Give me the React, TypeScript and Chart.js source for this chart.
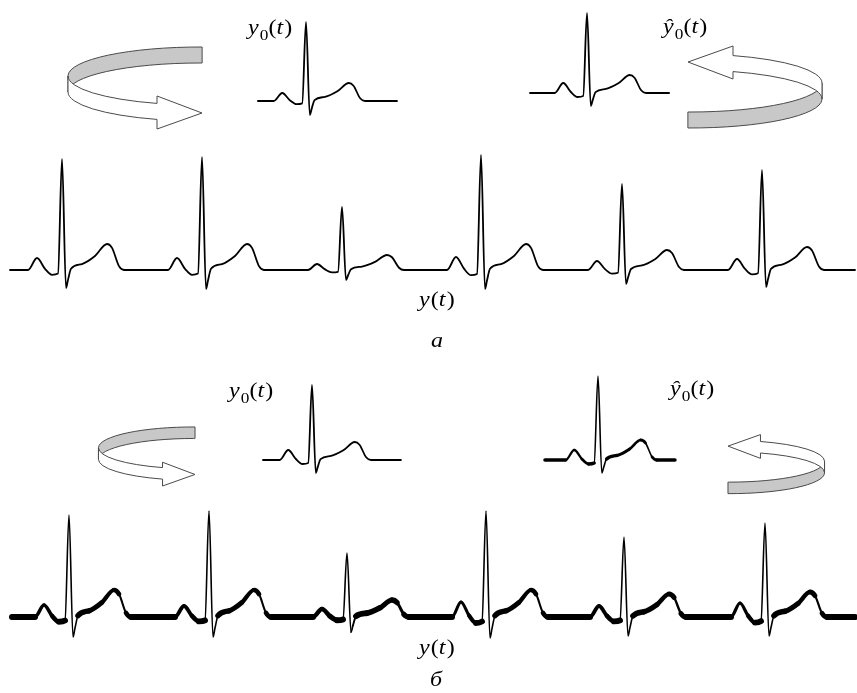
import React, { useEffect, useRef } from "react";
import { Chart, registerables } from "chart.js";

Chart.register(...registerables);

const W = 857;
const H = 693;

// ---- one heart-beat shape: knots relative to the R peak ----
const knotMs = [-170, -125, -85, -50, -20, 0, 20, 30, 45, 100, 165, 225, 250, 285, 310];
const knotWave = ["B", "P", "P", "P", "P", "R", "S", "S", "T", "T", "T", "T", "T", "T", "B"];
const knotFrac = [0, 1, 0.1, -0.4, -0.3, 1, -1, -0.55, 0.05, 0.23, 0.54, 1, 0.85, 0.15, 0];

// ---- panel а : clean ECG y(t) ----
const rTimesA = [310, 1010, 1710, 2405, 3110, 3810]; // ms
const rAmpA = [1.11, 1.13, 0.63, 1.15, 0.86, 1.0]; // mV
const pAmpA = [0.12, 0.12, 0.06, 0.13, 0.09, 0.11];
const sAmpA = [0.18, 0.19, 0.1, 0.19, 0.14, 0.17];
const tAmpA = [0.26, 0.26, 0.15, 0.26, 0.2, 0.23];
const spanA = [50, 4275];

// ---- panel б : noisy ECG y(t) ----
const rTimesB = [345, 1045, 1735, 2430, 3120, 3825];
const rAmpB = [1.02, 1.06, 0.64, 1.06, 0.8, 0.94];
const pAmpB = [0.12, 0.11, 0.08, 0.15, 0.11, 0.14];
const sAmpB = [0.2, 0.2, 0.15, 0.21, 0.19, 0.19];
const tAmpB = [0.27, 0.27, 0.17, 0.27, 0.23, 0.25];
const spanB = [60, 4275];

// ---- single-beat templates y0(t) and estimates ŷ0(t) ----
// [R, P, S, T] amplitudes (mV) and [start, end] (ms, relative to R)
const tplY0A = [0.79, 0.08, 0.14, 0.18];
const tplY0AHat = [0.8, 0.1, 0.13, 0.18];
const tplY0B = [0.75, 0.1, 0.13, 0.18];
const tplY0BHat = [0.84, 0.1, 0.13, 0.2];
const tplSpanY0A = [-253, 479];
const tplSpanY0AHat = [-300, 432];
const tplSpanY0B = [-258, 468];
const tplSpanY0BHat = [-279, 405];

type Pt = { x: number; y: number };

function beatShape(rt: number, amps: Record<string, number>): Pt[] {
  return knotMs.map((dt, i) => {
    const w = knotWave[i];
    const a = w === "B" ? 0 : amps[w];
    return { x: rt + dt, y: a * knotFrac[i] };
  });
}

function buildSeries(
  span: number[],
  rTimes: number[],
  rAmp: number[],
  pAmp: number[],
  sAmp: number[],
  tAmp: number[]
): Pt[] {
  const pts: Pt[] = [{ x: span[0], y: 0 }];
  rTimes.forEach((rt, i) => {
    pts.push(...beatShape(rt, { R: rAmp[i], P: pAmp[i], S: sAmp[i], T: tAmp[i] }));
  });
  pts.push({ x: span[1], y: 0 });
  return pts;
}

function buildTemplate(amps: number[], span: number[]): Pt[] {
  return buildSeries(span, [0], [amps[0]], [amps[1]], [amps[2]], [amps[3]]);
}

// placement of each trace on the page (layout only)
const traces = [
  { data: buildSeries(spanA, rTimesA, rAmpA, pAmpA, sAmpA, tAmpA), originPx: 0, baselinePx: 270, pxPerMs: 0.2, noise: 0 },
  { data: buildTemplate(tplY0A, tplSpanY0A), originPx: 306, baselinePx: 101, pxPerMs: 0.19, noise: 0 },
  { data: buildTemplate(tplY0AHat, tplSpanY0AHat), originPx: 587, baselinePx: 93, pxPerMs: 0.19, noise: 0 },
  { data: buildSeries(spanB, rTimesB, rAmpB, pAmpB, sAmpB, tAmpB), originPx: 0, baselinePx: 617, pxPerMs: 0.2, noise: 6 },
  { data: buildTemplate(tplY0B, tplSpanY0B), originPx: 312, baselinePx: 460, pxPerMs: 0.19, noise: 0 },
  { data: buildTemplate(tplY0BHat, tplSpanY0BHat), originPx: 598, baselinePx: 460, pxPerMs: 0.19, noise: 3.5 },
];
const PX_PER_MV = 100;

// arrows: centre x, centre y, scale, turned round
const arrows = [
  { cx: 200, cy: 84, s: 1, flip: false },
  { cx: 690, cy: 91, s: 1, flip: true },
  { cx: 193.5, cy: 453.6, s: 0.72, flip: false },
  { cx: 729.5, cy: 467, s: 0.72, flip: true },
];

// labels
type Part = [string, "i" | "r" | "s"];
const partsY0: Part[] = [["y", "i"], ["0", "s"], ["(", "r"], ["t", "i"], [")", "r"]];
const partsY0Hat: Part[] = [["ŷ", "i"], ["0", "s"], ["(", "r"], ["t", "i"], [")", "r"]];
const partsY: Part[] = [["y", "i"], ["(", "r"], ["t", "i"], [")", "r"]];
const labels = [
  { parts: partsY0, x: 248, y: 34 },
  { parts: partsY0Hat, x: 663, y: 33 },
  { parts: partsY, x: 419, y: 306 },
  { parts: [["а", "i"]] as Part[], x: 431, y: 347 },
  { parts: partsY0, x: 229, y: 397 },
  { parts: partsY0Hat, x: 670, y: 395 },
  { parts: partsY, x: 419, y: 654 },
  { parts: [["б", "i"]] as Part[], x: 430, y: 686 },
];
const FONT_SIZE = 20;
const STRETCH = 1.2;

function drawArrow(ctx: CanvasRenderingContext2D, cx: number, cy: number, s: number, flip: boolean) {
  const rx = 132, ry = 29, up = -8, lo = 8;
  const th0 = -Math.PI / 2 + 0.016;
  const thH = Math.acos(-43 / 132);
  ctx.save();
  ctx.translate(cx, cy);
  if (flip) ctx.rotate(Math.PI);
  ctx.scale(s, s);
  ctx.lineWidth = 1 / s;
  ctx.strokeStyle = "#4a4a4a";
  ctx.lineJoin = "miter";
  ctx.beginPath();
  ctx.ellipse(0, up, rx, ry, 0, th0, -Math.PI, true);
  ctx.ellipse(0, lo, rx, ry, 0, -Math.PI, th0, false);
  ctx.closePath();
  ctx.fillStyle = "#c8c8c8";
  ctx.fill();
  ctx.stroke();
  ctx.beginPath();
  ctx.ellipse(0, up, rx, ry, 0, Math.PI, thH, true);
  ctx.lineTo(-43, 12);
  ctx.lineTo(2, 29);
  ctx.lineTo(-43, 45);
  ctx.ellipse(0, lo, rx, ry, 0, thH, Math.PI, false);
  ctx.closePath();
  ctx.fillStyle = "#ffffff";
  ctx.fill();
  ctx.stroke();
  ctx.restore();
}

function drawMath(ctx: CanvasRenderingContext2D, x: number, y: number, parts: Part[]) {
  ctx.save();
  ctx.translate(x, y);
  ctx.scale(STRETCH, 1);
  ctx.fillStyle = "#000";
  ctx.textBaseline = "alphabetic";
  ctx.textAlign = "left";
  let px = 0;
  for (const [t, k] of parts) {
    const size = k === "s" ? FONT_SIZE * 0.72 : FONT_SIZE;
    ctx.font = `${k === "i" ? "italic " : ""}${size}px "Liberation Serif", "Times New Roman", serif`;
    ctx.fillText(t, px, k === "s" ? FONT_SIZE * 0.28 : 0);
    px += ctx.measureText(t).width + (k === "i" ? 1 : 0);
  }
  ctx.restore();
}

const decorPlugin = {
  id: "decor",
  afterDraw(chart: any) {
    const ctx: CanvasRenderingContext2D = chart.ctx;
    arrows.forEach((a) => drawArrow(ctx, a.cx, a.cy, a.s, a.flip));
    labels.forEach((l) => drawMath(ctx, l.x, l.y, l.parts));
  },
};

export default function App() {
  const ref = useRef<HTMLCanvasElement | null>(null);
  useEffect(() => {
    if (!ref.current) return;
    const scales: any = {};
    const datasets: any[] = traces.map((tr, i) => {
      scales[`x${i}`] = {
        type: "linear",
        display: false,
        min: -tr.originPx / tr.pxPerMs,
        max: (W - tr.originPx) / tr.pxPerMs,
      };
      scales[`y${i}`] = {
        type: "linear",
        display: false,
        min: (tr.baselinePx - H) / PX_PER_MV,
        max: tr.baselinePx / PX_PER_MV,
      };
      const noise = tr.noise;
      return {
        data: tr.data,
        xAxisID: `x${i}`,
        yAxisID: `y${i}`,
        borderColor: "#000",
        borderWidth: 1.8,
        pointRadius: 0,
        cubicInterpolationMode: "monotone",
        fill: false,
        borderCapStyle: "round",
        borderJoinStyle: "round",
        segment: noise
          ? {
              borderWidth: (c: any) => {
                const dx = Math.abs(c.p1.x - c.p0.x) || 0.001;
                const dy = Math.abs(c.p1.y - c.p0.y);
                const w = noise / Math.sqrt(1 + (dy / dx) * (dy / dx));
                return Math.max(1.6, w);
              },
            }
          : undefined,
      };
    });
    const chart = new Chart(ref.current, {
      type: "line",
      data: { datasets },
      options: {
        responsive: false,
        maintainAspectRatio: false,
        animation: false,
        devicePixelRatio: 1,
        layout: { padding: 0 },
        scales,
        plugins: { legend: { display: false }, tooltip: { enabled: false }, title: { display: false } },
        events: [],
      },
      plugins: [decorPlugin],
    } as any);
    return () => chart.destroy();
  }, []);
  return (
    <div style={{ position: "fixed", left: 0, top: 0, width: W, height: H, background: "#fff" }}>
      <canvas ref={ref} width={W} height={H} style={{ display: "block" }} />
    </div>
  );
}
